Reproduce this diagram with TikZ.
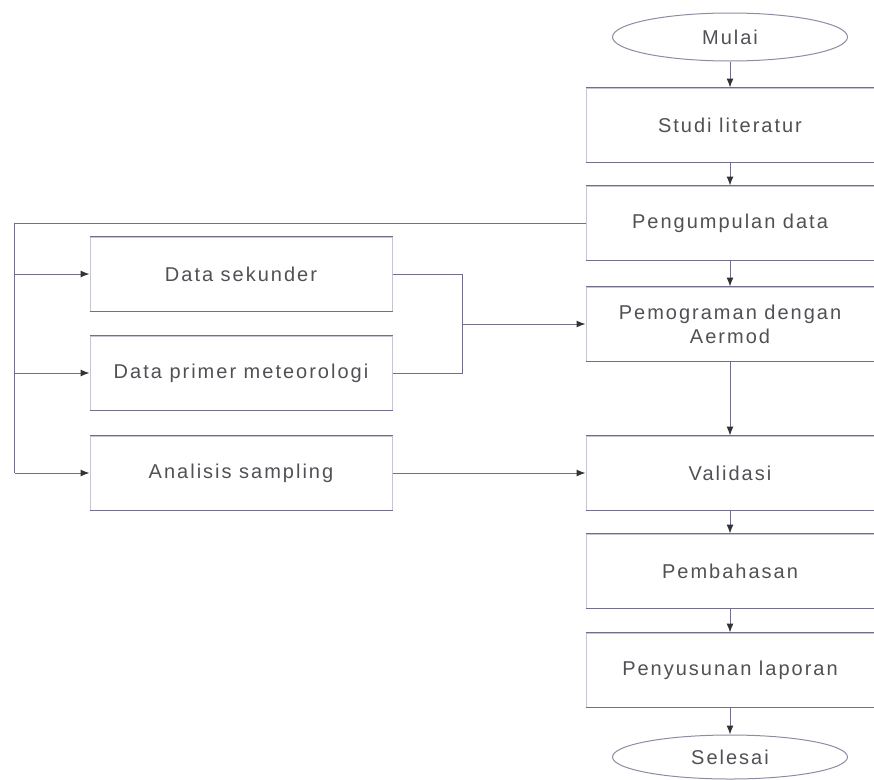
\documentclass[tikz,border=0pt]{standalone}
\usepackage{fontspec}
\setmainfont{Liberation Sans}[LetterSpace=10]
\usetikzlibrary{positioning,arrows.meta,shapes.geometric}
\definecolor{linecol}{RGB}{115,110,140}
\definecolor{textcol}{RGB}{80,80,85}

\begin{document}
\begin{tikzpicture}[-{Latex[length=9pt,width=7pt,color=black!80]} ,auto ,node distance =98pt and 489pt ,on grid ,
line width=1pt ,
wire/.style ={ draw=linecol },
proc/.style ={ rectangle , draw=linecol!40 , text=textcol ,
  minimum width =288pt , minimum height =74pt , align=center ,
  font=\fontsize{20}{24}\selectfont },
sideproc/.style ={ proc , minimum width =302pt },
term/.style ={ ellipse , draw=linecol!80 , text=textcol ,
  minimum width =235pt , minimum height =48pt ,
  font=\fontsize{20}{24}\selectfont }
]
\useasboundingbox (0pt,0pt) rectangle (874pt,-779pt);
% main column
\node[term] (M) at (730pt,-37pt) {Mulai};
\node[proc] (SL) [below = 88pt of M] {Studi literatur};
\node[proc] (PD) [below = of SL] {Pengumpulan data};
\node[proc] (PA) [below = 101pt of PD] {Pemograman dengan\\Aermod};
\node[proc] (V) [below = 149pt of PA] {Validasi};
\node[proc] (PB) [below = of V] {Pembahasan};
\node[proc] (PL) [below = 99pt of PB] {Penyusunan laporan};
\node[term, minimum height =44pt] (S) [below = 87pt of PL] {Selesai};
% data column
\node[sideproc] (AS) [left = of V] {Analisis sampling};
\node[sideproc] (DP) [above = 100pt of AS] {Data primer meteorologi};
\node[sideproc] (DS) [above = 99pt of DP] {Data sekunder};
\coordinate[left = 75pt of AS.west] (B);
\coordinate[right = 70pt of DS.east] (J);
% darker top and bottom edges
\foreach \n in {SL,PD,PA,V,PB,PL,DS,DP,AS}
  \draw[-, wire] (\n.north west) -- (\n.north east) (\n.south west) -- (\n.south east);
% flow
\draw[wire] (M) -- (SL);
\draw[wire] (SL) -- (PD);
\draw[wire] (PD) -- (PA);
\draw[wire] (PA) -- (V);
\draw[wire] (V) -- (PB);
\draw[wire] (PB) -- (PL);
\draw[wire] (PL) -- (S);
% branches
\draw[-, wire] (PD.west) -| (B);
\draw[wire] (B |- DS) -- (DS.west);
\draw[wire] (B |- DP) -- (DP.west);
\draw[wire] (B) -- (AS.west);
\draw[-, wire] (DS.east) -- (J) |- (DP.east);
\draw[wire] (J |- PA) -- (PA.west);
\draw[wire] (AS.east) -- (V.west);
\end{tikzpicture}
\end{document}
